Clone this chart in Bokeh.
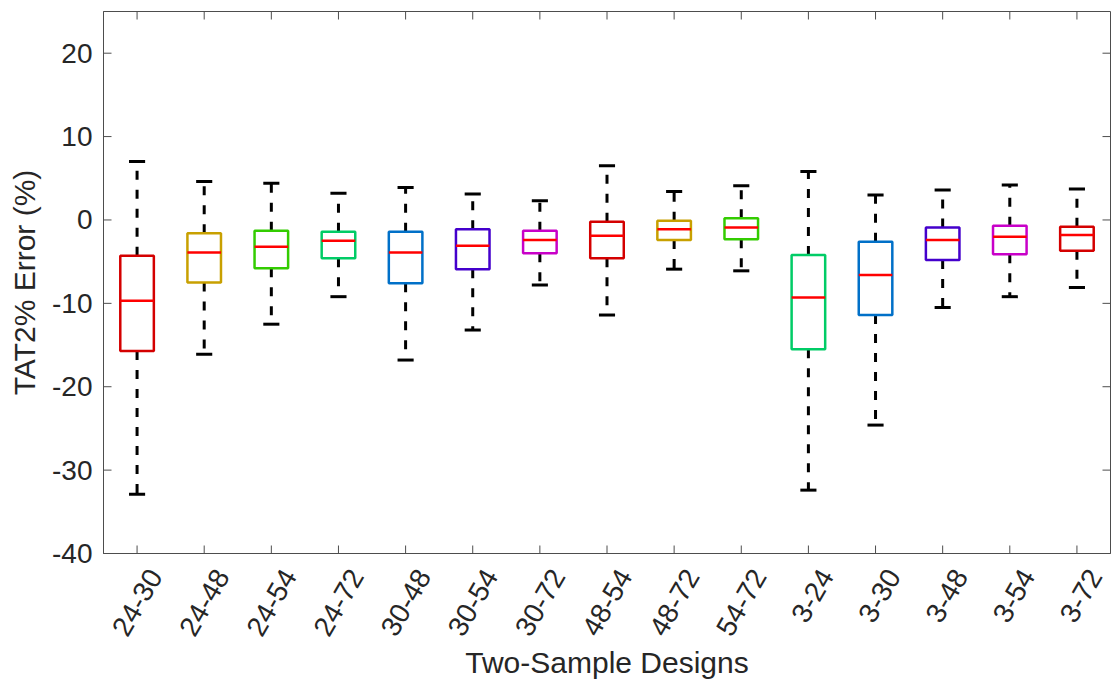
import math
from bokeh.plotting import figure
from bokeh.models import FixedTicker, LinearAxis, Range1d
from bokeh.embed import file_html
from bokeh.resources import INLINE

labels = ["24-30", "24-48", "24-54", "24-72", "30-48", "30-54", "30-72", "48-54",
          "48-72", "54-72", "3-24", "3-30", "3-48", "3-54", "3-72"]
lower_whisker = [-32.9, -16.1, -12.5, -9.2, -16.8, -13.2, -7.8, -11.4, -5.9, -6.1, -32.4, -24.6, -10.5, -9.2, -8.1]
q1 = [-15.7, -7.5, -5.8, -4.6, -7.6, -5.9, -4.0, -4.6, -2.4, -2.3, -15.5, -11.4, -4.8, -4.1, -3.7]
median = [-9.7, -3.9, -3.2, -2.5, -3.9, -3.1, -2.4, -1.9, -1.1, -0.9, -9.3, -6.6, -2.4, -2.0, -1.8]
q3 = [-4.3, -1.6, -1.3, -1.4, -1.4, -1.1, -1.3, -0.2, -0.1, 0.2, -4.2, -2.6, -0.9, -0.7, -0.8]
upper_whisker = [7.0, 4.6, 4.4, 3.2, 3.9, 3.1, 2.3, 6.5, 3.4, 4.1, 5.8, 3.0, 3.6, 4.2, 3.7]
y_ticks = [-40, -30, -20, -10, 0, 10, 20]
palette = ["#D40000", "#C8A000", "#33CC00", "#00CC66", "#0070C8", "#4400CC", "#C800C8"]

xs = list(range(1, len(labels) + 1))
colors = [palette[i % len(palette)] for i in range(len(labels))]
half_box = 0.25
half_cap = 0.12
label_shift = 0.27   # rotated labels are centred on their tick, as in the reference
X0, X1 = 0.5, 15.5
Y0, Y1 = -40, 25

W, H = 1112, 696
BL, BR, BT, BB = 103, 2, 11, 143
TICK_PX = 8
tick_dx = TICK_PX * (X1 - X0) / (W - BL - BR)
tick_dy = TICK_PX * (Y1 - Y0) / (H - BT - BB)

FONT = "Liberation Sans"
AX = "#4d4d4d"
TXT = "#262626"

p = figure(width=W, height=H, output_backend="svg", toolbar_location=None,
           x_range=Range1d(X0, X1), y_range=Range1d(Y0, Y1),
           min_border_left=BL, min_border_right=BR, min_border_top=BT, min_border_bottom=BB)
p.extra_x_ranges = {"lab": Range1d(X0 - label_shift, X1 - label_shift)}
p.background_fill_color = "white"
p.border_fill_color = "white"
p.grid.visible = False
p.outline_line_color = AX
p.outline_line_width = 1

# whiskers
p.segment(x0=xs, y0=q3, x1=xs, y1=upper_whisker, line_color="black", line_width=3, line_dash="9 10")
p.segment(x0=xs, y0=q1, x1=xs, y1=lower_whisker, line_color="black", line_width=3, line_dash="9 10")
# caps
p.segment(x0=[x - half_cap for x in xs], y0=upper_whisker, x1=[x + half_cap for x in xs], y1=upper_whisker,
          line_color="black", line_width=3)
p.segment(x0=[x - half_cap for x in xs], y0=lower_whisker, x1=[x + half_cap for x in xs], y1=lower_whisker,
          line_color="black", line_width=3)
# boxes
p.quad(left=[x - half_box for x in xs], right=[x + half_box for x in xs], bottom=q1, top=q3,
       fill_color=None, line_color=colors, line_width=2.5)
# medians
p.segment(x0=[x - half_box for x in xs], y0=median, x1=[x + half_box for x in xs], y1=median,
          line_color="#FF0000", line_width=2.5)

# inward tick marks on all four sides of the axes box
n, m = len(xs), len(y_ticks)
p.segment(x0=xs, y0=[Y0] * n, x1=xs, y1=[Y0 + tick_dy] * n, line_color=AX, line_width=1)
p.segment(x0=xs, y0=[Y1] * n, x1=xs, y1=[Y1 - tick_dy] * n, line_color=AX, line_width=1)
p.segment(x0=[X0] * m, y0=y_ticks, x1=[X0 + tick_dx] * m, y1=y_ticks, line_color=AX, line_width=1)
p.segment(x0=[X1] * m, y0=y_ticks, x1=[X1 - tick_dx] * m, y1=y_ticks, line_color=AX, line_width=1)

# main x axis: axis line only
xa = p.xaxis[0]
xa.ticker = FixedTicker(ticks=xs)
xa.major_label_overrides = {x: "" for x in xs}
xa.major_label_text_font_size = "1px"
xa.major_label_standoff = 0

ya = p.yaxis[0]
ya.ticker = FixedTicker(ticks=y_ticks)
ya.major_label_overrides = {t: str(t) for t in y_ticks}
ya.axis_label = "TAT2% Error (%)"
ya.major_label_text_font_size = "28px"
ya.major_label_standoff = 11
ya.axis_label_standoff = 8

# label axis for the category names
la = LinearAxis(x_range_name="lab", ticker=FixedTicker(ticks=xs))
la.major_label_overrides = {x: l for x, l in zip(xs, labels)}
la.major_label_orientation = math.pi / 3
la.major_label_text_font_size = "28px"
la.major_label_standoff = 18
la.axis_line_color = None
la.axis_label = "Two-Sample Designs"
la.axis_label_standoff = 0
p.add_layout(la, "below")

for ax in (xa, ya, la):
    ax.minor_tick_line_color = None
    ax.major_tick_line_color = None
    ax.major_tick_in = 0
    ax.major_tick_out = 0
    ax.major_label_text_font = FONT
    ax.major_label_text_color = TXT
    ax.axis_label_text_font = FONT
    ax.axis_label_text_font_size = "30px"
    ax.axis_label_text_font_style = "normal"
    ax.axis_label_text_color = TXT
for ax in (xa, ya):
    ax.axis_line_color = AX

open("out.html", "w").write(file_html(p, INLINE))
